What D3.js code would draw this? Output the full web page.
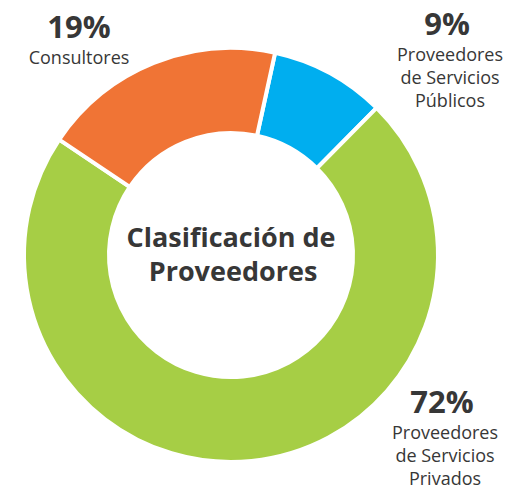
<!DOCTYPE html>
<meta charset="utf-8">
<style>
body { margin: 0; background: #fff; }
text { font-family: "Open Sans", "Noto Sans", sans-serif; fill: #373737; }
.pct { font-size: 31px; font-weight: bold; }
.lbl { font-size: 18px; }
.title { font-size: 27px; font-weight: bold; }
</style>
<svg width="506" height="490"></svg>
<script src="https://d3js.org/d3.v7.min.js"></script>
<script>

var categories = ["Proveedores de Servicios Públicos", "Proveedores de Servicios Privados", "Consultores"];
var values = [9, 72, 19];
var colors = ["#00aeef", "#a6ce45", "#f07435"];
// label lines and where they sit (x centre, first baseline)
var labelLines = [["Proveedores", "de Servicios", "Públicos"], ["Proveedores", "de Servicios", "Privados"], ["Consultores"]];
var labelPos = [[450, 35], [445, 413], [79, 38]];

var svg = d3.select("svg"),
    cx = 231, cy = 255;

var pie = d3.pie().sort(null)
    .startAngle(12.3 * Math.PI / 180)
    .endAngle((12.3 + 360) * Math.PI / 180);

var arc = d3.arc().innerRadius(122).outerRadius(207);

var g = svg.append("g").attr("transform", "translate(" + cx + "," + cy + ")");

g.selectAll("path")
  .data(pie(values)).enter()
  .append("path")
    .attr("d", arc)
    .attr("fill", function(d, i) { return colors[i]; })
    .attr("stroke", "#fff")
    .attr("stroke-width", 4);

// centre title
g.append("text").attr("class", "title").attr("text-anchor", "middle")
  .attr("x", 0).attr("y", -8).text("Clasificación de");
g.append("text").attr("class", "title").attr("text-anchor", "middle")
  .attr("x", 2).attr("y", 26).text("Proveedores");

// labels
var lab = svg.selectAll(".label")
  .data(values).enter()
  .append("g").attr("class", "label")
  .attr("transform", function(d, i) { return "translate(" + labelPos[i][0] + "," + labelPos[i][1] + ")"; });

lab.append("text").attr("class", "pct").attr("text-anchor", "middle")
  .attr("x", function(d, i) { return i == 2 ? 0 : -3; })
  .text(function(d) { return d + "%"; });

lab.each(function(d, i) {
  var sel = d3.select(this);
  labelLines[i].forEach(function(t, j) {
    sel.append("text").attr("class", "lbl").attr("text-anchor", "middle")
      .attr("y", 26 + j * 23).text(t);
  });
});
</script>
